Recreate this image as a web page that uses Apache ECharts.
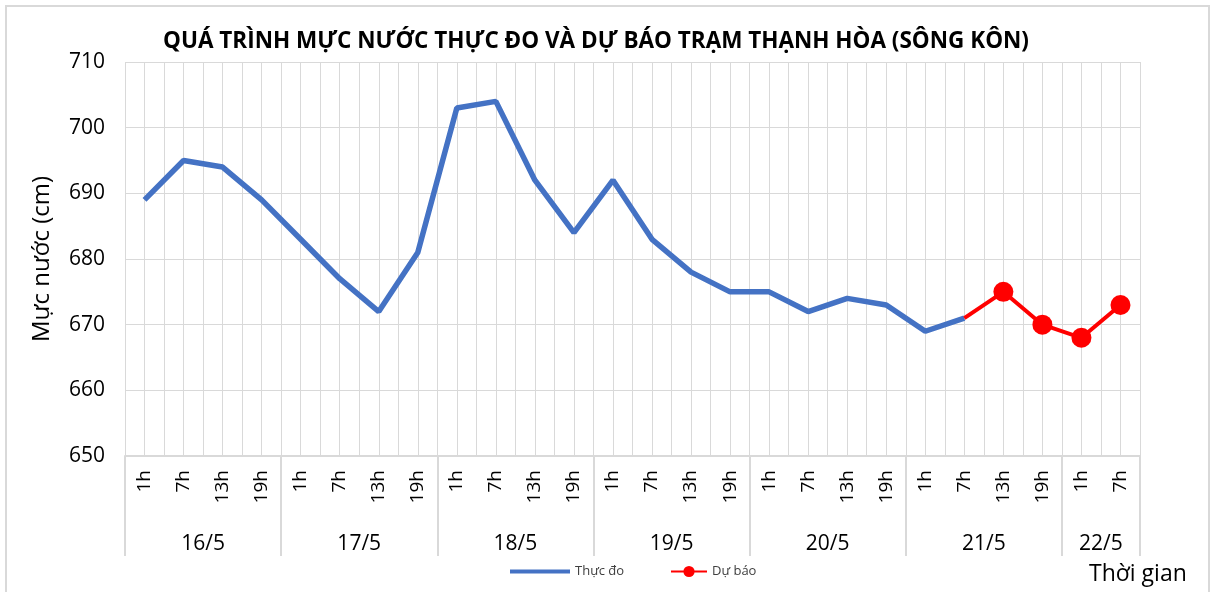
<!DOCTYPE html>
<html>
<head>
<meta charset="utf-8">
<script src="https://cdn.jsdelivr.net/npm/echarts@6/dist/echarts.min.js"></script>
<style>
  html, body { margin: 0; padding: 0; background: #fff; }
  #chart { width: 1211px; height: 592px; }
</style>
</head>
<body>
<div id="chart"></div>
<script>
(function () {
    'use strict';

    // hour ticks, one per measurement
    var hours = ['1h', '7h', '13h', '19h', '1h', '7h', '13h', '19h', '1h', '7h', '13h', '19h',
        '1h', '7h', '13h', '19h', '1h', '7h', '13h', '19h', '1h', '7h', '13h', '19h', '1h', '7h'];
    // day groups: label + number of hour slots
    var days = ['16/5', '17/5', '18/5', '19/5', '20/5', '21/5', '22/5'];
    var daySlots = [4, 4, 4, 4, 4, 4, 2];

    // water level (cm)
    var measured = [689, 695, 694, 689, 683, 677, 672, 681, 703, 704, 692, 684,
        692, 683, 678, 675, 675, 672, 674, 673, 669, 671];
    var forecast = [671, 675, 670, 668, 673];
    var forecastStart = 21;

    var yTicks = { min: 650, max: 710, step: 10 };

    // build group boundaries / centers from day slots
    var bounds = [0], centers = [], dayAt = {};
    daySlots.reduce(function (acc, n, i) {
        var c = acc + n / 2;
        centers.push(c);
        dayAt[c] = days[i];
        bounds.push(acc + n);
        return acc + n;
    }, 0);

    var forecastData = hours.map(function (h, i) {
        var k = i - forecastStart;
        if (k < 0 || k >= forecast.length) return '-';
        return k === 0 ? { value: forecast[k], symbol: 'none' } : forecast[k];
    });

    var grey = '#d9d9d9';
    var font = '"Open Sans", "Noto Sans", sans-serif';

    var myChart = echarts.init(document.getElementById('chart'));
    myChart.setOption({
        animation: false,
        textStyle: { fontFamily: font },
        title: {
            text: 'QUÁ TRÌNH MỰC NƯỚC THỰC ĐO VÀ DỰ BÁO TRẠM THẠNH HÒA (SÔNG KÔN)',
            left: 591, top: 25, textAlign: 'center',
            textStyle: { fontSize: 22.5, fontWeight: 'bold', color: '#000', fontFamily: font }
        },
        legend: [{
            data: [{ name: 'Thực đo', icon: 'rect' }], left: 505, top: 560, itemWidth: 60, itemHeight: 4, itemGap: 5,
            textStyle: { fontSize: 13, color: '#404040' }
        }, {
            data: ['Dự báo'], left: 665, top: 560, itemWidth: 36, itemHeight: 14, itemGap: 5,
            textStyle: { fontSize: 13, color: '#404040' }
        }],
        graphic: [{
            type: 'rect', shape: { x: 6, y: 6, width: 1203, height: 600 },
            style: { fill: 'none', stroke: grey, lineWidth: 2 }, silent: true
        }, {
            type: 'text', left: 1089, top: 563,
            style: { text: 'Thời gian', fontSize: 23, fill: '#000', fontFamily: font }
        }],
        grid: { left: 125, right: 71, top: 62, bottom: 136 },
        xAxis: [{
            type: 'category', data: hours, position: 'bottom',
            axisLine: { show: true, lineStyle: { color: grey, width: 2 } },
            axisTick: { show: false },
            axisLabel: { rotate: 90, fontSize: 19, margin: 14, color: '#000', interval: 0 },
            splitLine: { show: false }
        }, {
            type: 'value', min: 0, max: hours.length, position: 'bottom',
            axisLine: { show: false },
            axisTick: { show: true, customValues: bounds, length: 100, lineStyle: { color: grey, width: 2 } },
            axisLabel: {
                customValues: centers, margin: 78, fontSize: 21, color: '#000',
                formatter: function (v) { return dayAt[v] || ''; }
            },
            splitLine: { show: false }
        }, {
            type: 'value', min: 0, max: hours.length, interval: 0.5, position: 'bottom',
            axisLine: { show: false }, axisTick: { show: false }, axisLabel: { show: false },
            splitLine: { show: true, lineStyle: { color: grey, width: 1 } }
        }],
        yAxis: {
            type: 'value', min: yTicks.min, max: yTicks.max, interval: yTicks.step,
            name: 'Mực nước (cm)', nameLocation: 'middle', nameGap: 71,
            nameTextStyle: { fontSize: 24, color: '#000' },
            axisLine: { show: false }, axisTick: { show: false },
            axisLabel: { fontSize: 21, color: '#000', margin: 20 },
            splitLine: { show: true, lineStyle: { color: grey, width: 1 } }
        },
        series: [{
            name: 'Thực đo', type: 'line', data: measured, xAxisIndex: 0,
            symbol: 'none', lineStyle: { color: '#4472c4', width: 5.5 },
            itemStyle: { color: '#4472c4' }, z: 3
        }, {
            name: 'Dự báo', type: 'line', data: forecastData, xAxisIndex: 0,
            symbol: 'circle', symbolSize: 20,
            lineStyle: { color: '#ff0000', width: 4 },
            itemStyle: { color: '#ff0000' }, z: 4
        }]
    });
})();
</script>
</body>
</html>
